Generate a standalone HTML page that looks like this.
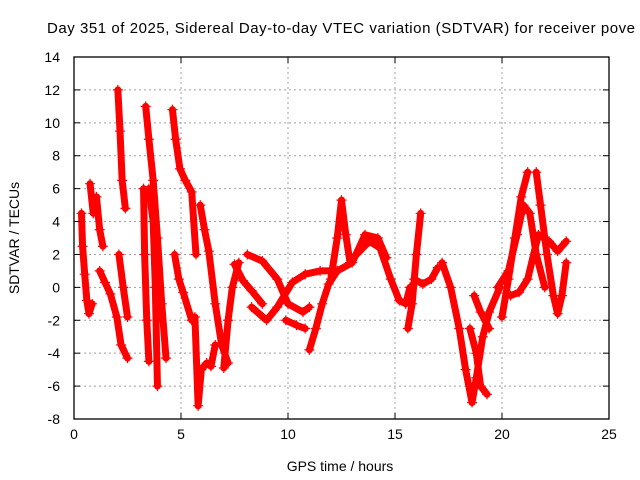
<!DOCTYPE html>
<html><head><meta charset="utf-8"><style>
html,body{margin:0;padding:0;background:#fff;width:640px;height:480px;overflow:hidden}
svg text{font-family:"Liberation Sans",sans-serif;fill:#000}
</style></head><body>
<svg id="chart" width="640" height="480" xmlns="http://www.w3.org/2000/svg">
<text x="47" y="33" font-size="15" textLength="588" lengthAdjust="spacing">Day 351 of 2025, Sidereal Day-to-day VTEC variation (SDTVAR) for receiver pove</text>
<text x="340" y="471" font-size="14" text-anchor="middle">GPS time / hours</text>
<text transform="translate(19,238) rotate(-90)" font-size="14" text-anchor="middle">SDTVAR / TECUs</text>
<g id="grid"></g><g id="marks"></g><g id="axes"></g>
</svg>
<script>
const xTicks=[0,5,10,15,20,25];
const yTicks=[-8,-6,-4,-2,0,2,4,6,8,10,12,14];
const segA_x=[0.35,0.4,0.5,0.6,0.7,0.85];const segA_y=[4.5,2.5,0.8,-0.8,-1.6,-1.0];
const segB_x=[0.75,0.9,1.05,1.2,1.35];const segB_y=[6.3,4.5,5.5,3.5,2.5];
const segC_x=[1.2,1.45,1.7,2.0,2.2,2.5];const segC_y=[1.0,0.3,-0.4,-1.8,-3.5,-4.3];
const segD_x=[2.05,2.15,2.25,2.4];const segD_y=[12,9.5,6.5,4.8];
const segE_x=[2.1,2.3,2.5];const segE_y=[2,0,-1.8];
const segF_x=[3.35,3.5,3.7,3.9,4.1,4.3];const segF_y=[11,9,6.5,3,-1,-4.3];
const segG_x=[3.25,3.3,3.4,3.5];const segG_y=[6,2,-2,-4.5];
const segH_x=[3.5,3.7,3.8,3.9];const segH_y=[6,4,0,-6];
const segI_x=[4.6,4.75,4.95,5.2,5.5,5.7];const segI_y=[10.8,9,7.2,6.5,5.8,2];
const segJ_x=[4.7,4.9,5.1,5.5];const segJ_y=[2,0.5,-0.3,-2];
const segK_x=[5.65,5.8,5.95,6.2,6.4,6.6];const segK_y=[-1.8,-7.2,-5,-4.6,-4.8,-3.5];
const segL_x=[5.9,6.1,6.3,6.6,6.9,7.2];const segL_y=[5,3.5,2.2,-1,-3.5,-4.6];
const segM_x=[7.0,7.2,7.4,7.7];const segM_y=[-4.9,-2,0,1.5];
const segN_x=[7.5,7.9,8.3,8.8];const segN_y=[1.4,0.4,-0.2,-1];
const segO_x=[8.1,8.8,9.5,10.0,10.7,11.0];const segO_y=[2,1.6,0.5,-1,-1.5,-1.2];
const segP_x=[8.3,9.0,9.5,10.2,10.8];const segP_y=[-1.2,-2.0,-1.2,0.3,0.8];
const segQ_x=[9.9,10.4,10.8];const segQ_y=[-2,-2.3,-2.5];
const segR_x=[11.0,11.3,11.6,11.9,12.3];const segR_y=[-3.8,-2.5,-1,0.2,1];
const segS_x=[12.0,12.3,12.5,12.7,12.9];const segS_y=[0.5,3,5.3,3.2,1.5];
const segT_x=[10.8,11.5,12.3,13.0,13.6,14.2,14.6];const segT_y=[0.8,1.0,1.0,1.5,3.2,3,1.8];
const segU_x=[13.2,13.8,14.3,14.8,15.2,15.5,15.7];const segU_y=[2,2.8,2.4,0.5,-0.8,-1,0];
const segV_x=[15.6,15.8,16.0,16.2];const segV_y=[-2.5,-1,2,4.5];
const segW_x=[15.9,16.3,16.7,17.0];const segW_y=[0.5,0.2,0.5,1.2];
const segX_x=[17.2,17.6,18.0,18.3,18.6,18.8,19.1,19.4,19.9];const segX_y=[1.5,0,-2.5,-5,-7,-5.5,-3,-1.5,0];
const segY_x=[18.7,19.0,19.4];const segY_y=[-0.5,-1.5,-2.5];
const segZ_x=[18.5,18.8,19.0,19.3];const segZ_y=[-2.5,-4,-6,-6.5];
const segAA_x=[20.0,20.3,20.6,20.9,21.2];const segAA_y=[-1.8,0.5,3,5.5,7];
const segAB_x=[19.8,20.3,20.7,21.0,21.3,21.6,22.0];const segAB_y=[0,1,3.2,5,4.5,2,0];
const segAC_x=[21.6,21.8,22.1,22.4,22.6,22.8,23.0];const segAC_y=[7,5,2,-0.5,-1.6,-0.5,1.5];
const segAD_x=[20.4,20.8,21.2,21.7,22.2,22.6,23.0];const segAD_y=[-0.5,-0.3,0.5,3.2,2.8,2.2,2.8];
const segments=[[segA_x,segA_y],[segB_x,segB_y],[segC_x,segC_y],[segD_x,segD_y],[segE_x,segE_y],[segF_x,segF_y],[segG_x,segG_y],[segH_x,segH_y],[segI_x,segI_y],[segJ_x,segJ_y],[segK_x,segK_y],[segL_x,segL_y],[segM_x,segM_y],[segN_x,segN_y],[segO_x,segO_y],[segP_x,segP_y],[segQ_x,segQ_y],[segR_x,segR_y],[segS_x,segS_y],[segT_x,segT_y],[segU_x,segU_y],[segV_x,segV_y],[segW_x,segW_y],[segX_x,segX_y],[segY_x,segY_y],[segZ_x,segZ_y],[segAA_x,segAA_y],[segAB_x,segAB_y],[segAC_x,segAC_y],[segAD_x,segAD_y]];

const L=74,R=609,T=57,B=419;
function sx(v){return L+(v-0)/25*(R-L);}
function sy(v){return B-(v+8)/22*(B-T);}
const NS="http://www.w3.org/2000/svg";
function mk(tag,attrs,parent){const e=document.createElementNS(NS,tag);for(const k in attrs)e.setAttribute(k,attrs[k]);parent.appendChild(e);return e;}
const grid=document.getElementById('grid'),marks=document.getElementById('marks'),axes=document.getElementById('axes');
xTicks.forEach(t=>{
  if(t>0&&t<25){const g=mk('line',{x1:sx(t),x2:sx(t),y1:T,y2:B,stroke:'#a0a0a0','stroke-dasharray':'2,3','stroke-width':1},grid);
  
  }
  const tk=mk('line',{x1:sx(t),x2:sx(t),y1:B,y2:B-6,stroke:'#000'},axes);
  
  
  const tk2=mk('line',{x1:sx(t),x2:sx(t),y1:T,y2:T+6,stroke:'#000'},axes);
  
  
  const lb=mk('text',{x:sx(t),y:B+20,'font-size':14,'text-anchor':'middle'},axes);lb.textContent=t;
  
  
});
yTicks.forEach(t=>{
  if(t>-8&&t<14){const g=mk('line',{x1:L,x2:R,y1:sy(t),y2:sy(t),stroke:'#a0a0a0','stroke-dasharray':'2,3','stroke-width':1},grid);
  
  }
  const tk=mk('line',{x1:L,x2:L+6,y1:sy(t),y2:sy(t),stroke:'#000'},axes);
  
  
  const tk2=mk('line',{x1:R,x2:R-6,y1:sy(t),y2:sy(t),stroke:'#000'},axes);
  
  
  const lb=mk('text',{x:L-14,y:sy(t)+5,'font-size':14,'text-anchor':'end'},axes);lb.textContent=t;
  
  
});
const fr=mk('rect',{x:L,y:T,width:R-L,height:B-T,fill:'none',stroke:'#000','stroke-width':1.3},axes);


segments.forEach(s=>{
  const pts=s[0].map((x,i)=>sx(x)+','+sy(s[1][i])).join(' ');
  const pl=mk('polyline',{points:pts,fill:'none',stroke:'#ff0000','stroke-width':7,'stroke-linejoin':'round','stroke-linecap':'round'},marks);
  
  
  s[0].forEach((x,i)=>{
    const px=sx(x),py=sy(s[1][i]);
    const p=mk('path',{d:`M${px-5},${py}H${px+5}M${px},${py-5}V${py+5}`,stroke:'#ff0000','stroke-width':1.2},marks);
    
    
  });
});
</script>
</body></html>
